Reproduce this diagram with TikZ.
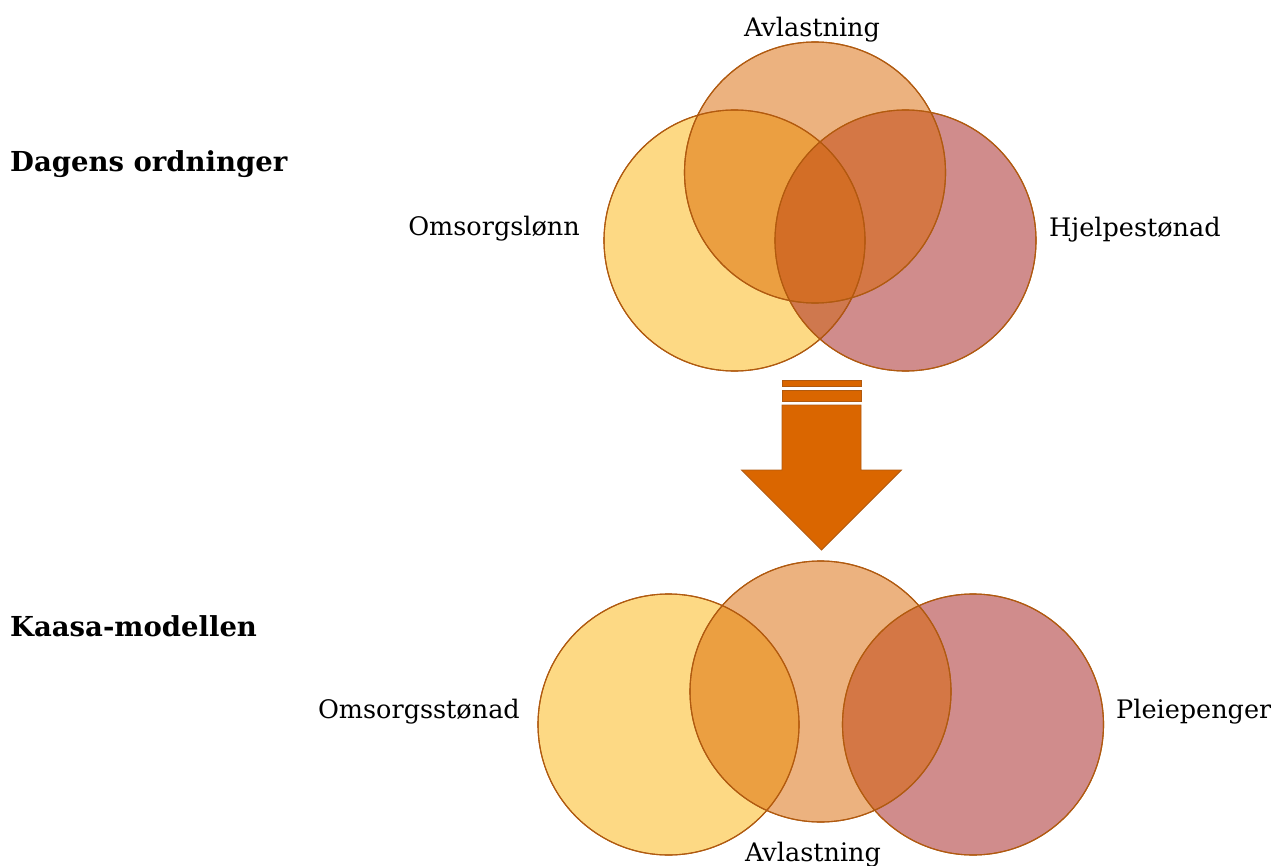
\documentclass[tikz,border=0pt]{standalone}
\usepackage{fontspec}
\setmainfont{DejaVu Serif}
\definecolor{cyel}{HTML}{FCB40A}
\definecolor{corg}{HTML}{D96500}
\definecolor{cred}{HTML}{A11919}
\definecolor{cline}{HTML}{B05A10}
\definecolor{carrow}{HTML}{DA6600}
\begin{document}
\begin{tikzpicture}[x=1pt,y=-1pt,
  venn/.style={draw=cline, line width=1.1pt, fill opacity=0.5},
  lbl/.style={inner sep=0pt, font=\fontsize{25.5}{30}\selectfont},
  head/.style={inner sep=0pt, anchor=base west, font=\fontsize{27.5}{32}\selectfont\bfseries},
  arrowshape/.style={draw=cline, line width=0.8pt, fill=carrow}]
\useasboundingbox (0,0) rectangle (1271,866);
% top venn
\fill[venn, fill=cyel] (734.5,240.5) circle (130.5);
\fill[venn, fill=cred] (905.5,240.5) circle (130.5);
\fill[venn, fill=corg] (815,172.5) circle (130.5);
\draw[cline, line width=1.1pt] (734.5,240.5) circle (130.5);
\draw[cline, line width=1.1pt] (905.5,240.5) circle (130.5);
\draw[cline, line width=1.1pt] (815,172.5) circle (130.5);
% bottom venn
\fill[venn, fill=cyel] (668.5,724.5) circle (130.5);
\fill[venn, fill=cred] (973,724.5) circle (130.5);
\fill[venn, fill=corg] (820.5,691.5) circle (130.5);
\draw[cline, line width=1.1pt] (668.5,724.5) circle (130.5);
\draw[cline, line width=1.1pt] (973,724.5) circle (130.5);
\draw[cline, line width=1.1pt] (820.5,691.5) circle (130.5);
% arrow
\draw[arrowshape] (782,380.5) rectangle (861,386);
\draw[arrowshape] (782,390.5) rectangle (861,401);
\draw[arrowshape] (782,405) -- (861,405) -- (861,470) -- (901.5,470) -- (821.5,550) -- (741.5,470) -- (782,470) -- cycle;
% labels
\node[head] (h1) at (10,172) {Dagens ordninger};
\node[head] (h2) at (10,636) {Kaasa-modellen};
\node[lbl, anchor=base] (t1) at (812,37) {Avlastning};
\node[lbl, anchor=base east] (t2) at (580,236) {Omsorgslønn};
\node[lbl, anchor=base west] (t3) at (1049,237) {Hjelpestønad};
\node[lbl, anchor=base east] (b1) at (520,718) {Omsorgsstønad};
\node[lbl, anchor=base west] (b2) at (1116,718) {Pleiepenger};
\node[lbl, anchor=base] (b3) at (813,861) {Avlastning};
\end{tikzpicture}
\end{document}
